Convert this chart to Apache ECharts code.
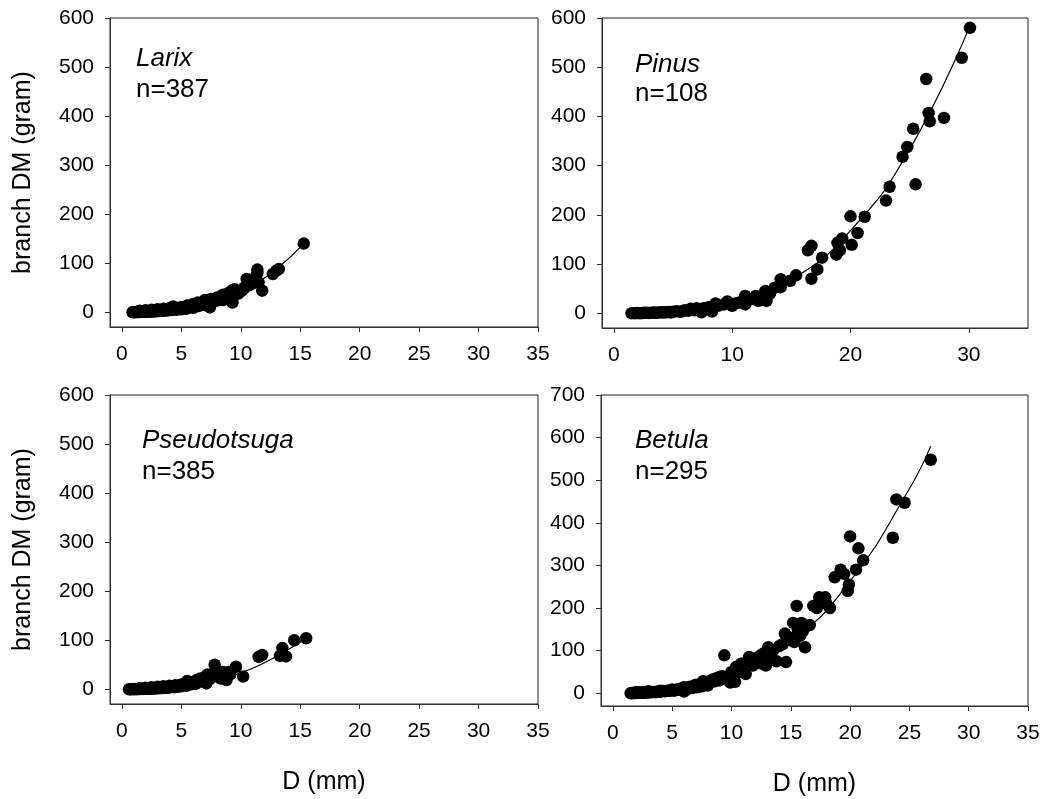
<!DOCTYPE html>
<html>
<head>
<meta charset="utf-8">
<script src="https://cdn.jsdelivr.net/npm/echarts@6/dist/echarts.min.js"></script>
<style>html,body{margin:0;padding:0;background:#fff}#c{width:1047px;height:799px}</style>
</head>
<body>
<div id="c"></div>
<script>
// ---------- data ----------
const panelNames = ['Larix', 'Pinus', 'Pseudotsuga', 'Betula'];
const panelCounts = ['n=387', 'n=108', 'n=385', 'n=295'];
const xTicksA = [0, 5, 10, 15, 20, 25, 30, 35];
const xTicksB = [0, 10, 20, 30];
const yTicks600 = [0, 100, 200, 300, 400, 500, 600];
const yTicks700 = [0, 100, 200, 300, 400, 500, 600, 700];

const larixD  = [0.9,1.0,1.1,1.2,1.3,1.4,1.5,1.6,1.7,1.8,1.9,2.0,2.1,2.2,2.3,2.4,2.5,2.6,2.7,2.8,2.9,3.0,3.1,3.2,3.3,3.4,3.5,3.6,3.7,3.8,3.9,4.0,4.2,4.3,4.4,4.6,4.8,5.0,5.2,5.4,5.5,5.7,5.9,6.0,6.2,6.4,6.5,6.7,6.9,7.0,7.2,7.3,7.4,7.6,7.8,8.0,8.1,8.3,8.5,8.7,8.8,9.0,9.2,9.3,9.4,9.6,9.8,10.1,10.3,10.5,10.7,11.0,11.2,11.4,11.4,11.5,11.8,12.7,13.0,13.2,15.3,
                 1.5,2.0,2.5,3.0,3.5,4.0,4.5,5.0,5.5,6.0,6.5,7.0,7.5,8.0,8.5,9.0,9.3,9.5];
const larixDM = [0,0.5,0.3,0.6,0.4,0.8,0.5,1,0.7,1.2,0.9,1.5,1.1,1.8,1.3,2,1.5,2.4,1.8,2.8,2.2,3,2.5,3.6,2.8,4,3.2,4.5,3.5,5,4,5.5,4.5,12,6,5,7,6,9,7,11,10,12,9,15,20,13,17,21,15,22,18,10,20,27,24,27,30,25,33,34,30,38,20,44,40,38,44,50,68,55,59,70,87,80,61,44,78,85,88,140,
                 3,4,5,6,7,8,9,11,14,17,18,25,27,30,36,40,45,47];
const larixFitD  = [0.9, 3, 5, 7, 9, 11, 13, 15.3];
const larixFitDM = [0.05, 2, 6.1, 15.5, 31, 55, 88, 140];

const pinusD  = [1.5,1.8,2.0,2.2,2.4,2.6,2.8,3.0,3.2,3.4,3.6,3.8,4.0,4.2,4.4,4.6,4.8,5.0,5.3,5.6,5.8,6.0,6.3,6.5,6.8,7.0,7.2,7.4,7.6,8.0,8.3,8.6,8.8,9.3,9.6,10.0,10.3,10.6,11.1,11.1,11.5,12.0,12.2,12.5,12.8,12.9,13.2,13.6,14.1,14.1,14.9,15.4,16.4,16.7,16.7,17.2,17.6,18.8,19.1,18.9,19.3,20.1,20.0,20.6,21.2,23.0,23.3,24.4,24.8,25.5,25.3,26.4,26.6,26.7,27.9,29.4,30.1];
const pinusDM = [0,0,0.5,0,0.5,0.8,1,0.5,1,1.5,1,1.5,2,1.5,2,2.5,1.5,3,4,3,4,6,5,9,6,10,8,2,10,12,3.5,20,15,18,24,15,20,22,18,35,28,35,25,30,45,25,40,52,69,53,66,77,128,137,70,89,113,119,128,143,152,139,197,163,196,229,257,318,338,262,375,476,407,390,397,519,580];
const pinusFitD  = [1.5, 5, 10, 15, 20, 25, 30.1];
const pinusFitDM = [0.1, 2.5, 20, 68, 168, 333, 585];

const pseudoD  = [0.6,0.7,0.8,0.9,1.0,1.1,1.2,1.3,1.4,1.5,1.6,1.7,1.8,1.9,2.0,2.1,2.2,2.3,2.4,2.5,2.6,2.7,2.8,2.9,3.0,3.1,3.2,3.3,3.4,3.5,3.6,3.7,3.8,3.9,4.0,4.2,4.4,4.5,4.7,4.9,5.0,5.2,5.4,5.5,5.6,5.8,6.0,6.2,6.3,6.4,6.6,6.7,6.9,7.0,7.1,7.3,7.4,7.6,7.8,7.9,8.1,8.3,8.6,8.8,9.1,9.6,10.2,11.5,11.8,13.3,13.5,13.8,14.5,15.5,
                  1.5,2.0,2.5,3.0,3.5,4.0,4.5,5.0,6.0,6.5,7.2,8.0,8.5,9.0,8.3];
const pseudoDM = [0,0.2,0,0.4,0.2,0.5,0.3,0.6,0.4,0.8,0.5,1,0.7,1.2,0.9,1.5,1.1,1.8,1.3,2,1.5,2.3,1.8,2.6,2,3,2.3,3.3,2.6,3.8,3,4.2,3.3,4.5,3.6,5,4,6,5,8,6,9,7,17,12,10,13,11,19,15,22,16,18,25,12,28,21,30,50,34,26,30,28,19,30,46,26,66,70,68,84,67,100,104,
                  2,3,4,5,6,7,8,10,15,20,30,34,35,35,22];
const pseudoFitD  = [0.6, 3, 5, 7, 9, 11, 13, 15.5];
const pseudoFitDM = [0.03, 2.6, 6.2, 14, 26, 43, 67, 104];

const betulaD  = [1.5,1.6,1.7,1.8,1.9,2.0,2.1,2.2,2.3,2.4,2.5,2.6,2.7,2.8,2.9,3.0,3.2,3.3,3.5,3.6,3.8,4.0,4.2,4.4,4.6,4.8,5.0,5.2,5.4,5.6,5.8,6.0,6.1,6.3,6.5,6.7,6.9,7.1,7.3,7.5,7.6,7.8,8.0,8.2,8.4,8.6,8.8,9.0,9.2,9.4,9.5,9.7,9.9,10.0,10.2,10.3,10.5,10.7,10.8,11.0,11.2,11.4,11.5,11.8,12.0,12.3,12.5,12.8,12.9,13.1,13.3,13.5,13.8,14.0,14.3,14.5,14.6,14.8,15.0,15.2,15.3,15.5,15.6,15.8,15.9,16.0,16.2,16.2,16.6,16.9,17.2,17.4,17.9,18.0,18.3,18.7,19.2,19.5,19.8,19.9,20.0,20.5,20.7,21.1,23.6,23.9,24.6,26.8,
                  2.0,3.0,4.0,5.0,6.0,7.0,8.0,9.0,10.0,10.4,11.0,12.5];
const betulaDM = [0,0.5,0.3,0.8,0.5,1,0.7,1.2,0.9,1.5,1.1,1.8,1.3,2,1.6,2.4,2,2.8,3,2.5,4,3.5,5,4.5,6,5.5,7,6,9,8,11,4,13,10,15,12,18,14,20,16,28,22,18,25,32,28,36,30,40,89,35,38,25,45,40,27,55,50,69,60,45,75,85,65,80,85,70,95,65,108,90,100,75,110,115,140,73,125,130,165,120,205,150,135,165,145,108,155,160,205,200,225,225,210,200,272,290,280,240,255,368,290,340,312,365,455,447,548,
                  3,4.5,6,9,14,20,27,38,50,62,70,90];
const betulaFitD  = [1.5, 5, 10, 15, 20, 25, 26.8];
const betulaFitDM = [0.2, 6, 40, 120, 263, 480, 580];

// ---------- chart ----------
const FONT = "'Liberation Sans', Arial, sans-serif";
const grids = [
  {left: 110, top: 18, width: 428, height: 309},
  {left: 602, top: 18, width: 426, height: 310},
  {left: 110, top: 395, width: 428, height: 309},
  {left: 601, top: 395, width: 427, height: 311}
];
const xTickSets = [xTicksA, xTicksB, xTicksA, xTicksA];
const yTickSets = [yTicks600, yTicks600, yTicks600, yTicks700];
const yMaxes = [600, 600, 600, 700];

function zip(a, b) { return a.map((v, i) => [v, b[i]]); }

const pointSets = [zip(larixD, larixDM), zip(pinusD, pinusDM), zip(pseudoD, pseudoDM), zip(betulaD, betulaDM)];
const fitSets = [zip(larixFitD, larixFitDM), zip(pinusFitD, pinusFitDM), zip(pseudoFitD, pseudoFitDM), zip(betulaFitD, betulaFitDM)];

const axisLineStyle = {color: '#333', width: 1};
const xAxes = grids.map((g, i) => ({
  type: 'value', gridIndex: i, min: -1, max: 35,
  splitLine: {show: false},
  axisLine: {show: true, onZero: false, lineStyle: axisLineStyle},
  axisTick: {show: true, length: 5, customValues: xTickSets[i], lineStyle: axisLineStyle},
  axisLabel: {customValues: xTickSets[i], margin: 17, color: '#000', fontSize: 21, fontFamily: FONT},
  name: i >= 2 ? 'D (mm)' : '', nameLocation: 'middle', nameGap: 66,
  nameTextStyle: {color: '#000', fontSize: 25, fontFamily: FONT}
}));
const yAxes = grids.map((g, i) => ({
  type: 'value', gridIndex: i, min: -30, max: yMaxes[i],
  splitLine: {show: false},
  axisLine: {show: true, onZero: false, lineStyle: axisLineStyle},
  axisTick: {show: true, length: 5, customValues: yTickSets[i], lineStyle: axisLineStyle},
  axisLabel: {customValues: yTickSets[i], margin: 16, color: '#000', fontSize: 21, fontFamily: FONT},
  name: (i === 0 || i === 2) ? 'branch DM (gram)' : '', nameLocation: 'middle', nameGap: 74,
  nameTextStyle: {color: '#000', fontSize: 25, fontFamily: FONT}
}));

const series = [];
for (let i = 0; i < 4; i++) {
  series.push({
    type: 'line', xAxisIndex: i, yAxisIndex: i, data: fitSets[i], smooth: true,
    showSymbol: false, symbol: 'none', lineStyle: {color: '#000', width: 1.2}, z: 3, silent: true
  });
  series.push({
    type: 'scatter', xAxisIndex: i, yAxisIndex: i, data: pointSets[i],
    symbol: 'circle', symbolSize: 12.5, itemStyle: {color: '#000', opacity: 1}, z: 4, silent: true
  });
}

const labelPos = [
  {x: 136, y1: 58.5, y2: 89.5},
  {x: 635, y1: 64.7, y2: 94},
  {x: 142, y1: 441, y2: 472},
  {x: 635, y1: 441, y2: 472}
];
const graphic = [];
labelPos.forEach((p, i) => {
  graphic.push({type: 'text', left: p.x, top: p.y1 - 13, style: {text: panelNames[i], fill: '#000', font: 'italic 26px ' + FONT}});
  graphic.push({type: 'text', left: p.x, top: p.y2 - 13, style: {text: panelCounts[i], fill: '#000', font: '26px ' + FONT}});
});

const chart = echarts.init(document.getElementById('c'), null, {renderer: 'canvas'});
chart.setOption({
  animation: false,
  backgroundColor: '#fff',
  grid: grids.map(g => Object.assign({show: true, borderColor: '#222', borderWidth: 1, backgroundColor: 'transparent'}, g)),
  xAxis: xAxes,
  yAxis: yAxes,
  series: series,
  graphic: graphic
});
</script>
</body>
</html>
